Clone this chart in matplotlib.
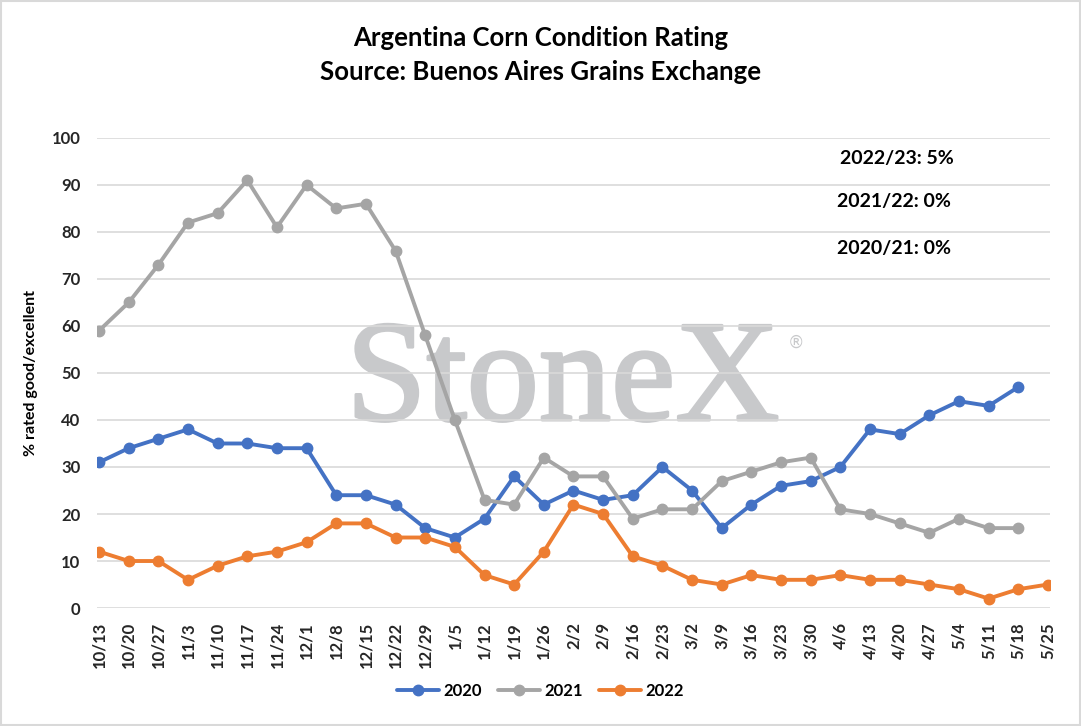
import matplotlib
matplotlib.use("Agg")
import matplotlib.pyplot as plt
from matplotlib.patches import Rectangle
import matplotlib.patheffects as pe

dates = ["10/13","10/20","10/27","11/3","11/10","11/17","11/24","12/1","12/8","12/15",
         "12/22","12/29","1/5","1/12","1/19","1/26","2/2","2/9","2/16","2/23","3/2",
         "3/9","3/16","3/23","3/30","4/6","4/13","4/20","4/27","5/4","5/11","5/18","5/25"]
s2020 = [31,34,36,38,35,35,34,34,24,24,22,17,15,19,28,22,25,23,24,30,25,17,22,26,27,30,38,37,41,44,43,47]
s2021 = [59,65,73,82,84,91,81,90,85,86,76,58,40,23,22,32,28,28,19,21,21,27,29,31,32,21,20,18,16,19,17,17]
s2022 = [12,10,10,6,9,11,12,14,18,18,15,15,13,7,5,12,22,20,11,9,6,5,7,6,6,7,6,6,5,4,2,4,5]
yticks = [0,10,20,30,40,50,60,70,80,90,100]
notes = ["2022/23: 5%", "2021/22: 0%", "2020/21: 0%"]

plt.rcParams['font.family'] = ['Lato', 'DejaVu Sans']

fig = plt.figure(figsize=(10.81, 7.26), dpi=100)
fig.patches.append(Rectangle((0.001, 0.001), 0.998, 0.997, transform=fig.transFigure,
                             fill=False, edgecolor="#D9D9D9", linewidth=1.5))
ax = fig.add_axes([0.0897, 0.1625, 0.8816, 0.6475])

x = list(range(len(dates)))
styles = [("2020", s2020, "#4472C4"), ("2021", s2021, "#A5A5A5"), ("2022", s2022, "#ED7D31")]
for name, vals, col in styles:
    ax.plot(x[:len(vals)], vals, color=col, linewidth=2.8, marker="o", markersize=7.5,
            label=name, zorder=3, solid_capstyle="round")

ax.set_ylim(0, 100)
ax.set_xlim(-0.07, len(dates) - 1 + 0.07)
ax.set_yticks(yticks)
ax.set_yticklabels([str(v) for v in yticks], fontsize=12, fontweight="bold", color="#262626")
ax.set_xticks(x)
ax.set_xticklabels(dates, rotation=90, fontsize=12, fontweight="bold", color="#262626")
ax.set_axisbelow(False)
ax.grid(axis="y", color="#D9D9D9", linewidth=1.2, zorder=1)
ax.tick_params(axis="y", length=0, pad=12)
ax.tick_params(axis="x", length=0, pad=10)
for s in ax.spines.values():
    s.set_visible(False)
ax.set_ylabel("% rated good/excellent", fontsize=11.5, fontweight="bold", labelpad=10)

fig.text(0.5, 0.948, "Argentina Corn Condition Rating", ha="center", va="center",
         fontsize=18.5, fontweight="bold")
fig.text(0.5, 0.901, "Source: Buenos Aires Grains Exchange", ha="center", va="center",
         fontsize=18.5, fontweight="bold")

wm = ax.text(0.489, 0.40, "StoneX", transform=ax.transAxes, ha="center", va="baseline",
             fontsize=104, family="Liberation Serif", color="#C8C9CB", zorder=0.5)
wm.set_path_effects([pe.Stroke(linewidth=2.2, foreground="#C8C9CB"), pe.Normal()])
ax.text(0.733, 0.564, "®", transform=ax.transAxes, ha="center", va="center",
        fontsize=12, family="DejaVu Sans", color="#C8C9CB", zorder=0.5)

for (txt, yp, xp) in zip(notes, [0.957, 0.864, 0.764], [0.839, 0.836, 0.836]):
    ax.text(xp, yp, txt, transform=ax.transAxes, ha="center", va="center",
            fontsize=14, fontweight="bold")

leg = fig.legend(loc="center", bbox_to_anchor=(0.5, 0.048), ncol=3, frameon=False,
                 prop={"weight": "bold", "size": 12}, handlelength=2.5, handletextpad=0.25,
                 columnspacing=1.0)

fig.savefig("out.png", dpi=100)
